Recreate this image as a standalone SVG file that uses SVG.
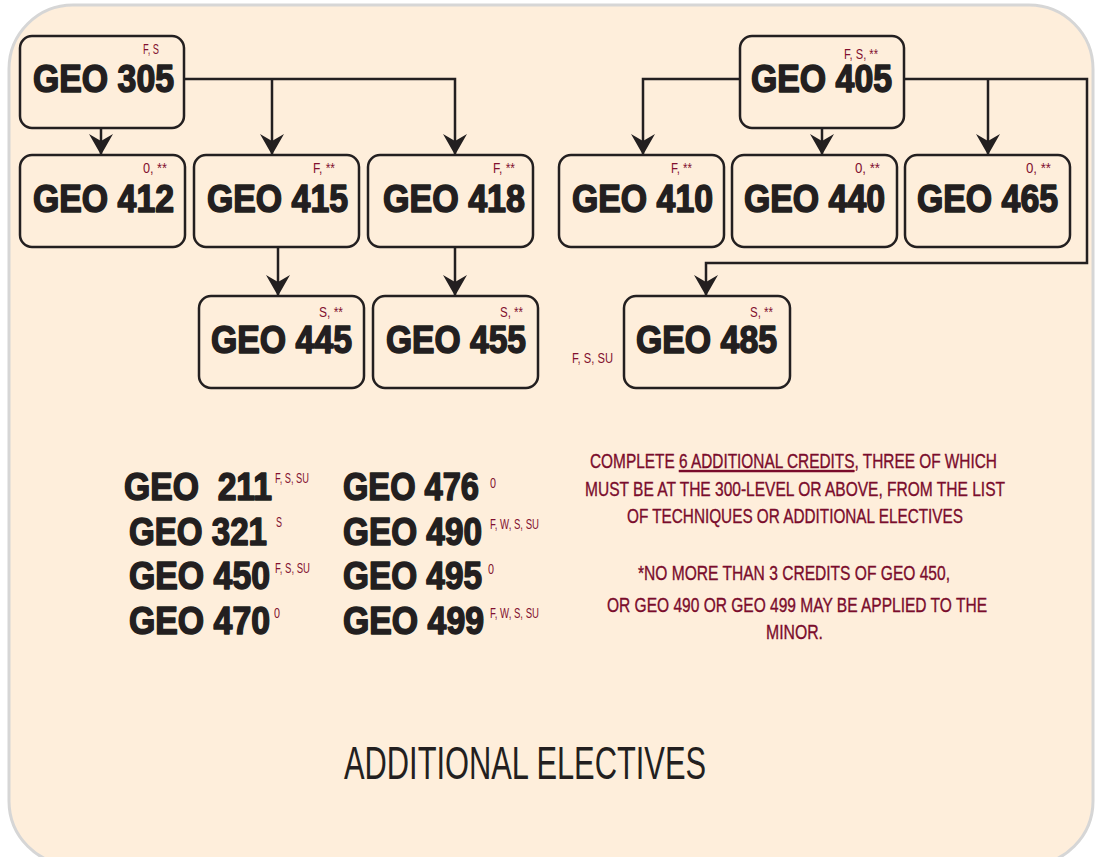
<svg xmlns="http://www.w3.org/2000/svg" width="1097" height="857" viewBox="0 0 1097 857">
<style>
.bg{fill:#FEEEDB;stroke:#D6D6D6;stroke-width:3}
.box{fill:#FEEEDB;stroke:#231F20;stroke-width:2.5}
.lbl{font-family:"Liberation Sans",Arial,sans-serif;font-weight:900;font-size:39px;fill:#231F20;stroke:#231F20;stroke-width:1.6;stroke-linejoin:round}
.note{font-family:"Liberation Sans Narrow","Liberation Sans",sans-serif;font-size:14.5px;fill:#82102F}
.sup{font-family:"Liberation Sans Narrow","Liberation Sans",sans-serif;font-size:15.5px;fill:#82102F}
.body{font-family:"Liberation Sans Narrow","Liberation Sans",sans-serif;font-size:20.5px;fill:#7A0C2C;stroke:#7A0C2C;stroke-width:0.35}
.title{font-family:"Liberation Sans Narrow","Liberation Sans",sans-serif;font-size:47px;fill:#231F20}
.conn path{fill:none;stroke:#231F20;stroke-width:2.5;marker-end:url(#ah)}
</style>
<defs>
<marker id="ah" viewBox="-22 -13 23 26" refX="0" refY="0" markerWidth="23" markerHeight="26" markerUnits="userSpaceOnUse" orient="auto">
<path d="M0,0 L-21,-12 L-14,0 L-21,12 Z" fill="#231F20"/>
</marker>
</defs>
<rect class="bg" x="9" y="5" width="1084" height="860" rx="64"/>

<g id="connectors" class="conn">
<path d="M101,128 V155"/>
<path d="M184,79 H455 V155"/>
<path d="M272,79 V155"/>
<path d="M278,247 V296"/>
<path d="M455,247 V296"/>
<path d="M740,79 H643 V155"/>
<path d="M822,128 V155"/>
<path d="M904,79 H1087 V263 H706 V296"/>
<path d="M988,79 V155"/>
</g>

<g id="geo305"><rect class="box" x="20" y="36" width="164" height="92" rx="12"/>
<text class="lbl" x="33" y="92" textLength="141" lengthAdjust="spacingAndGlyphs">GEO 305</text>
<text class="note" x="143" y="54" textLength="16" lengthAdjust="spacingAndGlyphs">F, S</text></g>

<g id="geo412"><rect class="box" x="20" y="155" width="165" height="92" rx="12"/>
<text class="lbl" x="33" y="212" textLength="141" lengthAdjust="spacingAndGlyphs">GEO 412</text>
<text class="note" x="143" y="173" textLength="24" lengthAdjust="spacingAndGlyphs">0, **</text></g>

<g id="geo415"><rect class="box" x="194" y="155" width="165" height="92" rx="12"/>
<text class="lbl" x="207" y="212" textLength="141" lengthAdjust="spacingAndGlyphs">GEO 415</text>
<text class="note" x="313" y="173" textLength="22" lengthAdjust="spacingAndGlyphs">F, **</text></g>

<g id="geo418"><rect class="box" x="368" y="155" width="165" height="92" rx="12"/>
<text class="lbl" x="383" y="212" textLength="142" lengthAdjust="spacingAndGlyphs">GEO 418</text>
<text class="note" x="493" y="173" textLength="22" lengthAdjust="spacingAndGlyphs">F, **</text></g>

<g id="geo445"><rect class="box" x="199" y="296" width="165" height="92" rx="12"/>
<text class="lbl" x="211" y="353" textLength="141" lengthAdjust="spacingAndGlyphs">GEO 445</text>
<text class="note" x="319" y="317" textLength="24" lengthAdjust="spacingAndGlyphs">S, **</text></g>

<g id="geo455"><rect class="box" x="373" y="296" width="165" height="92" rx="12"/>
<text class="lbl" x="386" y="353" textLength="140" lengthAdjust="spacingAndGlyphs">GEO 455</text>
<text class="note" x="500" y="317" textLength="23" lengthAdjust="spacingAndGlyphs">S, **</text></g>

<g id="geo405"><rect class="box" x="740" y="36" width="164" height="92" rx="12"/>
<text class="lbl" x="751" y="92" textLength="141" lengthAdjust="spacingAndGlyphs">GEO 405</text>
<text class="note" x="844" y="59" textLength="34" lengthAdjust="spacingAndGlyphs">F, S, **</text></g>

<g id="geo410"><rect class="box" x="559" y="155" width="165" height="92" rx="12"/>
<text class="lbl" x="572" y="212" textLength="141" lengthAdjust="spacingAndGlyphs">GEO 410</text>
<text class="note" x="671" y="173" textLength="21" lengthAdjust="spacingAndGlyphs">F, **</text></g>

<g id="geo440"><rect class="box" x="732" y="155" width="165" height="92" rx="12"/>
<text class="lbl" x="744" y="212" textLength="141" lengthAdjust="spacingAndGlyphs">GEO 440</text>
<text class="note" x="855" y="173" textLength="25" lengthAdjust="spacingAndGlyphs">0, **</text></g>

<g id="geo465"><rect class="box" x="905" y="155" width="165" height="92" rx="12"/>
<text class="lbl" x="917" y="212" textLength="141" lengthAdjust="spacingAndGlyphs">GEO 465</text>
<text class="note" x="1026" y="173" textLength="25" lengthAdjust="spacingAndGlyphs">0, **</text></g>

<g id="geo485"><rect class="box" x="624" y="296" width="166" height="92" rx="12"/>
<text class="lbl" x="636" y="353" textLength="141" lengthAdjust="spacingAndGlyphs">GEO 485</text>
<text class="note" x="750" y="317" textLength="23" lengthAdjust="spacingAndGlyphs">S, **</text></g>
<text class="note" x="572" y="363" textLength="41" lengthAdjust="spacingAndGlyphs">F, S, SU</text>

<g id="electives-list">
<text class="lbl" x="124" y="500" textLength="148" lengthAdjust="spacingAndGlyphs" xml:space="preserve">GEO  211</text>
<text class="sup" x="275" y="483" textLength="34" lengthAdjust="spacingAndGlyphs">F, S, SU</text>
<text class="lbl" x="129" y="545" textLength="138" lengthAdjust="spacingAndGlyphs">GEO 321</text>
<text class="sup" x="276" y="527" textLength="6" lengthAdjust="spacingAndGlyphs">S</text>
<text class="lbl" x="129" y="589" textLength="141" lengthAdjust="spacingAndGlyphs">GEO 450</text>
<text class="sup" x="275" y="573" textLength="35" lengthAdjust="spacingAndGlyphs">F, S, SU</text>
<text class="lbl" x="129" y="634" textLength="141" lengthAdjust="spacingAndGlyphs">GEO 470</text>
<text class="sup" x="274" y="618" textLength="6" lengthAdjust="spacingAndGlyphs">0</text>
<text class="lbl" x="343" y="500" textLength="136" lengthAdjust="spacingAndGlyphs">GEO 476</text>
<text class="sup" x="490" y="488" textLength="6" lengthAdjust="spacingAndGlyphs">0</text>
<text class="lbl" x="343" y="545" textLength="139" lengthAdjust="spacingAndGlyphs">GEO 490</text>
<text class="sup" x="490" y="529" textLength="49" lengthAdjust="spacingAndGlyphs">F, W, S, SU</text>
<text class="lbl" x="343" y="589" textLength="139" lengthAdjust="spacingAndGlyphs">GEO 495</text>
<text class="sup" x="488" y="574" textLength="6" lengthAdjust="spacingAndGlyphs">0</text>
<text class="lbl" x="343" y="634" textLength="141" lengthAdjust="spacingAndGlyphs">GEO 499</text>
<text class="sup" x="490" y="618" textLength="49" lengthAdjust="spacingAndGlyphs">F, W, S, SU</text>
</g>

<g id="requirements">
<text class="body" x="590" y="468" textLength="407" lengthAdjust="spacingAndGlyphs">COMPLETE <tspan text-decoration="underline">6 ADDITIONAL CREDITS</tspan>, THREE OF WHICH</text>
<text class="body" x="585" y="496" textLength="420" lengthAdjust="spacingAndGlyphs">MUST BE AT THE 300-LEVEL OR ABOVE, FROM THE LIST</text>
<text class="body" x="627" y="523" textLength="336" lengthAdjust="spacingAndGlyphs">OF TECHNIQUES OR ADDITIONAL ELECTIVES</text>
<text class="body" x="638" y="580" textLength="312" lengthAdjust="spacingAndGlyphs">*NO MORE THAN 3 CREDITS OF GEO 450,</text>
<text class="body" x="607" y="612" textLength="380" lengthAdjust="spacingAndGlyphs">OR GEO 490 OR GEO 499 MAY BE APPLIED TO THE</text>
<text class="body" x="766" y="639" textLength="57" lengthAdjust="spacingAndGlyphs">MINOR.</text>
</g>

<text class="title" x="344" y="779" textLength="362" lengthAdjust="spacingAndGlyphs">ADDITIONAL ELECTIVES</text>
</svg>
